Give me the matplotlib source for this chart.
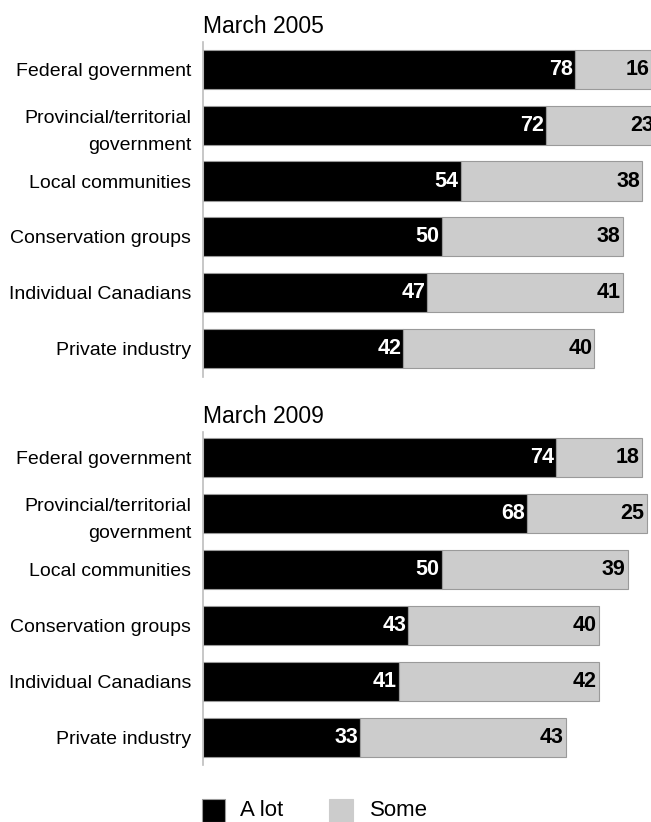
import matplotlib
matplotlib.use("Agg")
import matplotlib.pyplot as plt
from matplotlib.patches import Rectangle

plt.rcParams['font.family'] = ['Liberation Sans Narrow', 'Liberation Sans', 'DejaVu Sans']

categories = [
    "Federal government",
    "Provincial/territorial\ngovernment",
    "Local communities",
    "Conservation groups",
    "Individual Canadians",
    "Private industry",
]
periods = ["March 2005", "March 2009"]
a_lot = [
    [78, 72, 54, 50, 47, 42],
    [74, 68, 50, 43, 41, 33],
]
some = [
    [16, 23, 38, 38, 41, 40],
    [18, 25, 39, 40, 42, 43],
]
series_names = ["A lot", "Some"]

BLACK = "#000000"
GREY = "#cccccc"
EDGE = "#9a9a9a"
SPINE = "#bdbdbd"

W, H = 651, 822
fig = plt.figure(figsize=(W / 100, H / 100), dpi=100)

# (top, bottom) of each panel's axis line in pixels from the top
panels_px = [(42, 377), (432, 765)]
ylims = [(5.51, -0.49), (5.49, -0.45)]
left_px = 203
xmax = (W - left_px) / 4.77

for k, (top, bot) in enumerate(panels_px):
    ax = fig.add_axes([left_px / W, 1 - bot / H, 1 - left_px / W, (bot - top) / H])
    y = list(range(len(categories)))
    ax.barh(y, a_lot[k], height=0.7, color=BLACK, edgecolor=EDGE, linewidth=0.8)
    ax.barh(y, some[k], left=a_lot[k], height=0.7, color=GREY, edgecolor=EDGE, linewidth=0.8)
    for yi, a, s in zip(y, a_lot[k], some[k]):
        ax.annotate(str(a), xy=(a, yi), xytext=(-2, 0), textcoords="offset pixels",
                    ha="right", va="center", color="white", fontsize=15.5, fontweight="bold",
                    annotation_clip=False)
        ax.annotate(str(s), xy=(a + s, yi), xytext=(-2, 0), textcoords="offset pixels",
                    ha="right", va="center", color="black", fontsize=15.5, fontweight="bold",
                    annotation_clip=False)
    ax.set_xlim(0, xmax)
    ax.set_ylim(*ylims[k])
    ax.set_yticks(y)
    ax.set_yticklabels(categories, fontsize=14, linespacing=1.75, ha="right")
    ax.tick_params(axis="y", length=0, pad=8.5)
    ax.set_xticks([])
    for side in ("top", "right", "bottom"):
        ax.spines[side].set_visible(False)
    ax.spines["left"].set_color(SPINE)
    ax.spines["left"].set_linewidth(1.2)
    ax.set_facecolor("none")
    ax.annotate(periods[k], xy=(0, 1), xycoords="axes fraction", xytext=(0, 9),
                textcoords="offset pixels", ha="left", va="baseline", fontsize=16.5,
                color="black")

# legend keys drawn along the bottom edge
legend_items = [(202, 23, BLACK, EDGE, 240), (329, 24, GREY, GREY, 370)]
for (x0, w, fc, ec, tx), name in zip(legend_items, series_names):
    fig.add_artist(Rectangle((x0 / W, 0), w / W, 23 / H, transform=fig.transFigure,
                             facecolor=fc, edgecolor=ec, linewidth=0.8))
    fig.text(tx / W, 1 / H, name, ha="left", va="bottom", fontsize=16, color="black")

fig.savefig("out.png", dpi=100)
